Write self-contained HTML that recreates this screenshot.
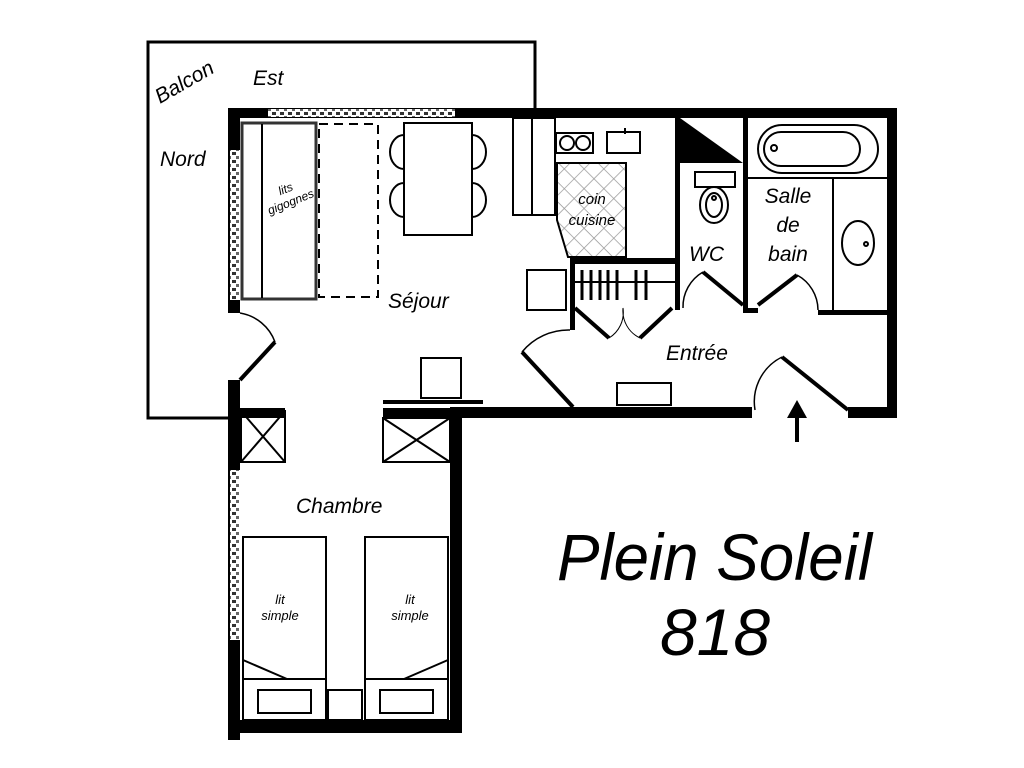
<!DOCTYPE html>
<html><head><meta charset="utf-8"><style>html,body{margin:0;padding:0;background:#fff}svg{display:block}</style></head>
<body>
<svg width="1024" height="768" viewBox="0 0 1024 768" xmlns="http://www.w3.org/2000/svg" font-family="Liberation Sans, sans-serif" font-style="italic">
<defs>
<pattern id="hatch" width="14" height="14" patternUnits="userSpaceOnUse" patternTransform="rotate(45)">
<rect width="14" height="14" fill="#fff"/><path d="M0 0H14M0 0V14" stroke="#999" stroke-width="1.5"/></pattern>
<pattern id="win" width="8" height="8" patternUnits="userSpaceOnUse">
<rect width="8" height="8" fill="#fff"/><rect x="0" y="0" width="4" height="3" fill="#333"/><rect x="4" y="4" width="3" height="3" fill="#666"/></pattern>
</defs>
<rect width="1024" height="768" fill="#fff"/>
<path d="M233 418 H148 V42 H535 V108" fill="none" stroke="#000" stroke-width="3"/>
<g fill="#000">
<rect x="228" y="108" width="669" height="10"/>
<rect x="268" y="109" width="187" height="8" fill="url(#win)"/>
<rect x="887" y="108" width="10" height="310"/>
<rect x="228" y="108" width="12" height="205"/>
<rect x="230" y="150" width="10" height="150" fill="url(#win)"/>
<rect x="228" y="380" width="12" height="360"/>
<rect x="230" y="470" width="10" height="170" fill="url(#win)"/>
<rect x="228" y="408" width="57" height="10"/>
<rect x="228" y="720" width="234" height="13"/>
<rect x="450" y="410" width="12" height="323"/>
<rect x="383" y="408" width="79" height="10"/>
<rect x="450" y="407" width="302" height="11"/>
<rect x="848" y="407" width="49" height="11"/>
<rect x="675" y="118" width="5" height="192"/>
<rect x="743" y="118" width="5" height="194"/>
<rect x="570" y="258" width="105" height="6"/>
<rect x="570" y="258" width="5" height="72"/>
<rect x="818" y="310" width="70" height="5"/>
<rect x="743" y="308" width="15" height="5"/>
<path d="M680 118 L743 163 L680 163 Z"/>
</g>
<g fill="none" stroke="#000" stroke-width="2">
<rect x="242" y="123" width="74" height="176" stroke="#333" stroke-width="3"/>
<line x1="262" y1="124" x2="262" y2="298"/>
<rect x="319" y="124" width="59" height="173" stroke-dasharray="9 6"/>
<rect x="404" y="123" width="68" height="112"/>
<path d="M404 135 A14 17 0 0 0 404 169 M404 183 A14 17 0 0 0 404 217 M472 135 A14 17 0 0 1 472 169 M472 183 A14 17 0 0 1 472 217"/>
<rect x="513" y="118" width="42" height="97"/>
<line x1="532" y1="118" x2="532" y2="215"/>
<rect x="556" y="133" width="37" height="20"/>
<circle cx="567" cy="143" r="7"/><circle cx="583" cy="143" r="7"/>
<rect x="607" y="132" width="33" height="21"/>
<line x1="625" y1="128" x2="625" y2="134"/>
<path d="M557 163 H626 V257 H568 L557 220 Z" fill="url(#hatch)" stroke="#000"/>
<line x1="575" y1="282" x2="675" y2="282"/>
<g stroke-width="3"><line x1="582" y1="270" x2="582" y2="300"/><line x1="591" y1="270" x2="591" y2="300"/><line x1="600" y1="270" x2="600" y2="300"/><line x1="608" y1="270" x2="608" y2="300"/><line x1="617" y1="270" x2="617" y2="300"/><line x1="636" y1="270" x2="636" y2="300"/><line x1="646" y1="270" x2="646" y2="300"/></g>
<path d="M575 308 L609 338 M672 308 L640 338" stroke-width="4"/>
<path d="M609 338 A30 30 0 0 0 623 308 A30 30 0 0 0 640 338" stroke-width="1"/>
<rect x="527" y="270" width="39" height="40"/>
<rect x="421" y="358" width="40" height="40"/>
<line x1="383" y1="402" x2="483" y2="402" stroke-width="4"/>
<path d="M240 380 L275 342" stroke-width="4"/>
<path d="M240 313 A45 45 0 0 1 275 342" stroke-width="1.5"/>
<path d="M522 352 L573 407" stroke-width="4"/>
<path d="M522 352 A60 60 0 0 1 570 330" stroke-width="1.5"/>
<rect x="617" y="383" width="54" height="22"/>
<path d="M782 357 L848 410" stroke-width="4"/>
<path d="M782 357 A50 50 0 0 0 755 410" stroke-width="1.5"/>
<path d="M703 272 L743 305" stroke-width="4"/>
<path d="M703 272 A40 40 0 0 0 683 308" stroke-width="1.5"/>
<rect x="695" y="172" width="40" height="15"/>
<ellipse cx="714" cy="205" rx="14" ry="18"/>
<ellipse cx="714" cy="205" rx="8" ry="12"/>
<circle cx="714" cy="198" r="2"/>
<path d="M797 275 L758 305" stroke-width="4"/>
<path d="M797 275 A40 40 0 0 1 818 310" stroke-width="1.5"/>
<rect x="758" y="125" width="120" height="48" rx="24"/>
<rect x="764" y="132" width="96" height="34" rx="17"/>
<circle cx="774" cy="148" r="3"/>
<line x1="748" y1="178" x2="887" y2="178"/>
<line x1="833" y1="178" x2="833" y2="310"/>
<ellipse cx="858" cy="243" rx="16" ry="22"/>
<circle cx="866" cy="244" r="2"/>
<rect x="241" y="411" width="44" height="51"/>
<path d="M241 411 L285 462 M285 411 L241 462"/>
<rect x="383" y="418" width="67" height="44"/>
<path d="M383 418 L450 462 M450 418 L383 462"/>
<rect x="243" y="537" width="83" height="183"/>
<line x1="243" y1="679" x2="326" y2="679"/>
<line x1="243" y1="660" x2="287" y2="679"/>
<rect x="258" y="690" width="53" height="23"/>
<rect x="365" y="537" width="83" height="183"/>
<line x1="365" y1="679" x2="448" y2="679"/>
<line x1="448" y1="660" x2="404" y2="679"/>
<rect x="380" y="690" width="53" height="23"/>
<rect x="328" y="690" width="34" height="30"/>
</g>
<line x1="797" y1="442" x2="797" y2="412" stroke="#000" stroke-width="4"/>
<path d="M787 418 L797 400 L807 418 Z" fill="#000"/>
<g fill="#000" font-size="21">
<text x="160" y="104" transform="rotate(-30 160 104)">Balcon</text>
<text x="253" y="85">Est</text>
<text x="160" y="166">Nord</text>
<text x="388" y="308">Séjour</text>
<text x="689" y="261">WC</text>
<text x="788" y="203" text-anchor="middle">Salle</text>
<text x="788" y="232" text-anchor="middle">de</text>
<text x="788" y="261" text-anchor="middle">bain</text>
<text x="666" y="360">Entrée</text>
<text x="296" y="513">Chambre</text>
<text x="592" y="204" font-size="15" text-anchor="middle">coin</text>
<text x="592" y="225" font-size="15" text-anchor="middle">cuisine</text>
<g font-size="12" transform="rotate(-22 290 200)"><text x="290" y="192" text-anchor="middle">lits</text><text x="290" y="206" text-anchor="middle">gigognes</text></g>
<text x="280" y="604" font-size="13" text-anchor="middle">lit</text>
<text x="280" y="620" font-size="13" text-anchor="middle">simple</text>
<text x="410" y="604" font-size="13" text-anchor="middle">lit</text>
<text x="410" y="620" font-size="13" text-anchor="middle">simple</text>
<text x="557" y="580" font-size="66" textLength="315" lengthAdjust="spacingAndGlyphs">Plein Soleil</text>
<text x="715" y="655" font-size="66" text-anchor="middle">818</text>
</g>
</svg>
</body></html>
